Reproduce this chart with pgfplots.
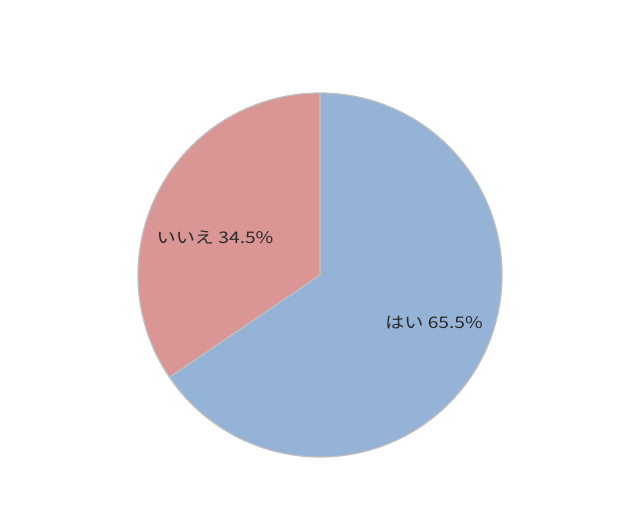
\documentclass[border=0pt]{standalone}
\usepackage{pgfplots}
\usepackage{pgfplotstable}
\pgfplotsset{compat=1.18}
\usetikzlibrary{calc}
\usepackage{fontspec}
\newfontfamily\jp{Noto Sans CJK JP}
\definecolor{sliceA}{HTML}{95B3D7}
\definecolor{sliceB}{HTML}{D99694}
\definecolor{edge}{HTML}{BFBFBF}
\definecolor{lbl}{HTML}{2A2A2A}
\pgfplotstableread{
label value
はい 65.5
いいえ 34.5
}\piedata
\newcommand{\lab}[1]{\scalebox{1.2}[1]{#1}}
\begin{document}
\begin{tikzpicture}
\pgfplotstablegetelem{0}{value}\of\piedata \let\va\pgfplotsretval
\pgfplotstablegetelem{1}{value}\of\piedata \let\vb\pgfplotsretval
\pgfmathsetmacro{\endA}{90-3.6*\va}
\begin{axis}[x=1bp,y=1bp,xmin=0,xmax=639,ymin=0,ymax=514,hide axis,clip=false,anchor=south west,at={(0,0)}]
\filldraw[fill=sliceA,draw=edge,line width=1.2bp] (axis cs:320,239) -- (axis cs:320,421) arc[start angle=90,end angle=\endA,radius=182bp] -- cycle;
\filldraw[fill=sliceB,draw=edge,line width=1.2bp] (axis cs:320,239) -- ($(axis cs:320,239)+(\endA:182bp)$) arc[start angle=\endA,end angle=-270,radius=182bp] -- cycle;
\node[font=\jp\fontsize{16bp}{18bp}\selectfont,text=lbl] at (axis cs:215,276) {\lab{いいえ 34.5\%}};
\node[font=\jp\fontsize{16bp}{18bp}\selectfont,text=lbl] at (axis cs:434,191) {\lab{はい 65.5\%}};
\end{axis}
\path (0,0) rectangle (639bp,514bp);
\end{tikzpicture}
\end{document}
